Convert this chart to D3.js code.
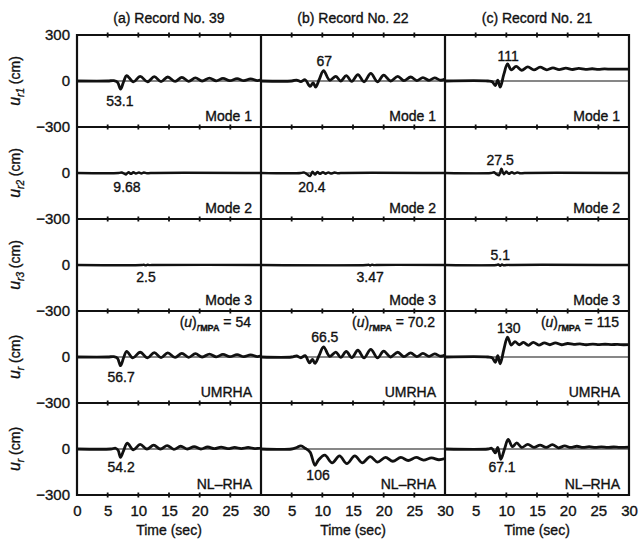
<!DOCTYPE html>
<html>
<head>
<meta charset="utf-8">
<script src="https://cdn.jsdelivr.net/npm/d3@7"></script>
<style>
    body { margin: 0; background: #fff; }
    text { font-family: "Liberation Sans", Arial, Helvetica, sans-serif; fill: #111; stroke: #111; stroke-width: 0.35px; }
</style>
</head>
<body>
<div id="chart"></div>
<script>
// ---- data: [time (s), displacement (cm)] ----
const recordTitles = ["(a) Record No. 39", "(b) Record No. 22", "(c) Record No. 21"];
const rowNames = ["Mode 1", "Mode 2", "Mode 3", "UMRHA", "NL\u2013RHA"];
const rowSubs = ["r1", "r2", "r3", "r", "r"];
const timeTicks = [0, 5, 10, 15, 20, 25, 30];
const dispTicks = [300, 0, -300];

const mode1Rec39 = [[0,0],[5,0],[6,2],[6.6,-8],[7.1,-53.1],[7.6,-5],[8.1,35],[9.2,-6],[10.3,30],[11.5,-5],[12.6,28],[13.7,-4],[14.8,26],[16,-3],[17.1,24],[18.2,-2],[19.3,21],[20.4,0],[21.6,19],[22.7,1],[23.8,17],[24.9,2],[26.1,15],[27.2,2],[28.3,14],[29.4,3],[30,8]];
const mode1Rec22 = [[0,0],[5,0],[5.8,6],[6.5,-4],[7.2,8],[8.0,-35],[8.5,-12],[8.9,-40],[9.5,10],[10.2,67],[11.2,5],[12.2,30],[13.0,0],[13.9,35],[14.8,-3],[15.8,42],[16.8,-5],[17.9,50],[19.0,-5],[20.0,38],[21.1,0],[22.3,30],[23.3,2],[24.4,26],[25.4,3],[26.4,22],[27.4,4],[28.3,20],[29.3,5],[30,12]];
const mode1Rec21 = [[0,0],[7,0],[7.7,-5],[8.2,-30],[8.6,5],[9.0,-40],[9.6,45],[10.2,111],[10.8,72],[11.6,95],[12.5,70],[13.5,92],[14.5,72],[15.5,90],[16.6,73],[17.6,86],[18.6,74],[19.7,84],[20.8,75],[21.8,82],[22.9,76],[24,80],[25,76],[26,79],[27.1,77],[28.2,78],[29.2,77],[30,78]];

const mode2Rec39 = [[0,0],[6.8,0],[7.3,3],[7.7,-5],[8.0,-9.7],[8.4,5],[8.8,-6],[9.2,5],[9.6,-4],[10.1,4],[10.5,-3],[10.9,3],[11.4,-2],[12,0],[30,0]];
const mode2Rec22 = [[0,0],[6.5,0],[7.0,4],[7.5,-8],[8.0,-20.4],[8.4,8],[8.8,-10],[9.2,7],[9.6,-6],[10.1,6],[10.5,-5],[11,4],[11.4,-4],[12,3],[12.5,-2],[13,0],[30,0]];
const mode2Rec21 = [[0,0],[7.5,0],[8.0,5],[8.4,-8],[8.8,-15],[9.2,27.5],[9.6,-8],[10,10],[10.4,-6],[10.9,6],[11.3,-4],[11.8,4],[12.3,-2],[13,0],[30,0]];

const mode3Rec39 = [[0,0],[10.6,0],[10.9,1.5],[11.2,-2.5],[11.5,1.5],[11.8,-1],[12.2,0],[30,0]];
const mode3Rec22 = [[0,0],[17.2,0],[17.5,2],[17.8,-3.47],[18.1,2],[18.4,-1],[18.8,0],[30,0]];
const mode3Rec21 = [[0,0],[8.4,0],[8.7,3],[9.0,-5.1],[9.3,3],[9.6,-2],[10,0],[30,0]];

const umrhaRec39 = [[0,0],[5,0],[6,2],[6.6,-8],[7.1,-56.7],[7.6,-5],[8.1,37],[9.1,-6],[10.3,31],[11.5,-6],[12.6,29],[13.7,-4],[14.8,27],[16,-3],[17.1,24],[18.2,-2],[19.3,22],[20.4,0],[21.6,19],[22.7,1],[23.8,17],[24.9,2],[26.1,15],[27.2,2],[28.3,14],[29.4,3],[30,8]];
const umrhaRec22 = [[0,0],[5,0],[5.8,7],[6.5,-5],[7.2,9],[7.9,-38],[8.4,-15],[8.8,-42],[9.5,12],[10.2,66.5],[11.2,4],[12.2,32],[13.0,-2],[13.9,36],[14.8,-4],[15.8,44],[16.8,-6],[17.9,50],[19.0,-6],[20.0,38],[21.1,0],[22.3,31],[23.3,2],[24.4,27],[25.4,3],[26.4,23],[27.4,4],[28.3,20],[29.3,5],[30,12]];
const umrhaRec21 = [[0,0],[7,0],[7.7,-6],[8.2,-35],[8.6,8],[9.0,-45],[9.6,50],[10.2,130],[10.8,78],[11.4,100],[12.1,80],[12.8,95],[13.6,76],[14.4,96],[15.3,78],[16.2,92],[17.1,80],[18.0,92],[19.0,80],[20.0,88],[21.0,82],[22.0,86],[23.0,80],[24.1,84],[25.1,81],[26.1,83],[27.1,81],[28.1,82],[29.1,80],[30,81]];

const nlRec39 = [[0,0],[5.5,0],[6.3,5],[6.7,-8],[7.1,-54.2],[7.6,-10],[8.2,38],[9.2,-5],[10.3,30],[11.4,0],[12.5,25],[13.6,0],[14.7,22],[15.8,-2],[16.9,18],[18.0,0],[19.1,15],[20.2,0],[21.3,13],[22.4,2],[23.5,12],[24.6,2],[25.7,10],[26.8,3],[27.9,10],[29,3],[30,7]];
const nlRec22 = [[0,0],[5,0],[5.8,10],[6.5,20],[7.2,5],[8.0,-20],[8.8,-106],[9.4,-70],[10.4,-40],[11.6,-90],[12.8,-45],[14.0,-95],[15.3,-45],[16.5,-90],[17.8,-50],[19.0,-85],[20.3,-55],[21.5,-80],[22.8,-55],[24.0,-75],[25.3,-55],[26.5,-72],[27.8,-58],[29.0,-70],[30,-62]];
const nlRec21 = [[0,0],[7,0],[7.6,5],[8.2,-25],[8.6,10],[9.1,-67.1],[9.7,0],[10.3,62],[11.0,15],[11.7,40],[12.5,10],[13.5,30],[14.5,10],[15.5,25],[16.5,10],[17.5,28],[18.5,8],[19.5,20],[20.5,10],[21.5,18],[22.5,10],[23.5,15],[24.5,10],[25.5,14],[26.5,10],[27.5,13],[28.5,10],[30,12]];

const peakLabels = [
    ["53.1", "67", "111"],
    ["9.68", "20.4", "27.5"],
    ["2.5", "3.47", "5.1"],
    ["56.7", "66.5", "130"],
    ["54.2", "106", "67.1"]
];
const mpaValues = ["54", "70.2", "115"];

// ---- layout ----
const width = 641, height = 541;
const plotLeft = 77, plotTop = 35;
const colW = 184, rowH = 92;

const series = [
    [mode1Rec39, mode1Rec22, mode1Rec21],
    [mode2Rec39, mode2Rec22, mode2Rec21],
    [mode3Rec39, mode3Rec22, mode3Rec21],
    [umrhaRec39, umrhaRec22, umrhaRec21],
    [nlRec39, nlRec22, nlRec21]
];

// where each peak label sits, in data coordinates [t, u] of its panel
const peakAnchor = [
    [[7.0, -163], [10.3, 98], [10.3, 130]],
    [[8.15, -124], [8.3, -124], [9.0, 52]],
    [[11.25, -111], [17.8, -111], [9.0, 33]],
    [[7.2, -163], [10.4, 98], [10.4, 156]],
    [[7.2, -150], [9.3, -202], [9.3, -150]]
];

const svg = d3.select("#chart").append("svg")
    .attr("width", width)
    .attr("height", height);

const xScales = d3.range(3).map(c => d3.scaleLinear()
    .domain([0, 30])
    .range([plotLeft + c * colW, plotLeft + (c + 1) * colW]));

const yScales = d3.range(5).map(r => d3.scaleLinear()
    .domain([-300, 300])
    .range([plotTop + (r + 1) * rowH, plotTop + r * rowH]));

const lineGen = (x, y) => d3.line()
    .x(d => x(d[0]))
    .y(d => y(d[1]))
    .curve(d3.curveCatmullRom.alpha(0.5));

// zero lines
for (let r = 0; r < 5; r++) {
    for (let c = 0; c < 3; c++) {
        svg.append("line")
            .attr("x1", xScales[c](0)).attr("x2", xScales[c](30))
            .attr("y1", yScales[r](0)).attr("y2", yScales[r](0))
            .attr("stroke", "#111").attr("stroke-width", 1.2);
    }
}

// traces
for (let r = 0; r < 5; r++) {
    for (let c = 0; c < 3; c++) {
        svg.append("path")
            .datum(series[r][c])
            .attr("d", lineGen(xScales[c], yScales[r]))
            .attr("fill", "none")
            .attr("stroke", "#111")
            .attr("stroke-width", r === 1 || r === 2 ? 2.4 : 2.8)
            .attr("stroke-linejoin", "round");
    }
}

// frame: row boundaries and column boundaries
for (let r = 0; r <= 5; r++) {
    const y = plotTop + r * rowH;
    svg.append("line")
        .attr("x1", plotLeft).attr("x2", plotLeft + 3 * colW)
        .attr("y1", y).attr("y2", y)
        .attr("stroke", "#111").attr("stroke-width", 2.2);
}
for (let c = 0; c <= 3; c++) {
    const x = plotLeft + c * colW;
    svg.append("line")
        .attr("x1", x).attr("x2", x)
        .attr("y1", plotTop - 1).attr("y2", plotTop + 5 * rowH + 1)
        .attr("stroke", "#111").attr("stroke-width", 2.2);
}

// small ticks on each row boundary
for (let c = 0; c < 3; c++) {
    for (let r = 0; r <= 5; r++) {
        const y = plotTop + r * rowH;
        svg.append("g")
            .selectAll("line")
            .data(timeTicks.slice(1, -1))
            .join("line")
            .attr("x1", d => xScales[c](d)).attr("x2", d => xScales[c](d))
            .attr("y1", y - 2.5).attr("y2", y + 2.5)
            .attr("stroke", "#111").attr("stroke-width", 1.8);
    }
}

// bottom time axes
for (let c = 0; c < 3; c++) {
    const ax = svg.append("g")
        .attr("transform", "translate(0," + (plotTop + 5 * rowH) + ")")
        .call(d3.axisBottom(xScales[c])
            .tickValues(c === 0 ? timeTicks : timeTicks.slice(1))
            .tickSize(0)
            .tickPadding(10));
    ax.select(".domain").remove();
    ax.selectAll("text")
        .attr("font-size", 15)
        .attr("fill", "#111")
        .style("font-family", "'Liberation Sans', Arial, sans-serif");

    svg.append("text")
        .attr("x", plotLeft + c * colW + colW / 2)
        .attr("y", 535)
        .attr("text-anchor", "middle")
        .attr("font-size", 14)
        .text("Time (sec)");

    svg.append("text")
        .attr("x", plotLeft + c * colW + colW / 2)
        .attr("y", 23)
        .attr("text-anchor", "middle")
        .attr("font-size", 14)
        .text(recordTitles[c]);
}

// left displacement axes
for (let r = 0; r < 5; r++) {
    const ay = svg.append("g")
        .attr("transform", "translate(" + plotLeft + ",0)")
        .call(d3.axisLeft(yScales[r])
            .tickValues(r === 0 ? dispTicks : dispTicks.slice(1))
            .tickSize(0)
            .tickPadding(7)
            .tickFormat(d => d < 0 ? "\u2212" + Math.abs(d) : d));
    ay.select(".domain").remove();
    ay.selectAll("text")
        .attr("font-size", 15)
        .attr("fill", "#111")
        .style("font-family", "'Liberation Sans', Arial, sans-serif");

    // axis title u_rn (cm)
    const cy = plotTop + r * rowH + rowH / 2;
    const ttl = svg.append("text")
        .attr("transform", "translate(20," + cy + ") rotate(-90)")
        .attr("text-anchor", "middle")
        .attr("font-size", 14);
    ttl.append("tspan").attr("font-style", "italic").attr("font-size", 16).text("u");
    ttl.append("tspan").attr("font-style", "italic").attr("font-size", 10).attr("dy", 4).text(rowSubs[r]);
    ttl.append("tspan").attr("dy", -4).text(" (cm)");
}

// row names and peak labels
for (let r = 0; r < 5; r++) {
    for (let c = 0; c < 3; c++) {
        svg.append("text")
            .attr("x", plotLeft + (c + 1) * colW - 9)
            .attr("y", plotTop + r * rowH + 86)
            .attr("text-anchor", "end")
            .attr("font-size", 14)
            .text(rowNames[r]);

        const a = peakAnchor[r][c];
        svg.append("text")
            .attr("x", xScales[c](a[0]))
            .attr("y", yScales[r](a[1]))
            .attr("text-anchor", "middle")
            .attr("font-size", 14)
            .text(peakLabels[r][c]);
    }
}

// (u)_rMPA labels in the UMRHA row
for (let c = 0; c < 3; c++) {
    const lbl = svg.append("text")
        .attr("x", plotLeft + (c + 1) * colW - 10)
        .attr("y", plotTop + 3 * rowH + 16)
        .attr("text-anchor", "end")
        .attr("font-size", 14);
    lbl.append("tspan").text("(");
    lbl.append("tspan").attr("font-style", "italic").text("u");
    lbl.append("tspan").text(")");
    lbl.append("tspan").attr("font-style", "italic").attr("font-size", 10).attr("dy", 4).text("r");
    lbl.append("tspan").attr("font-size", 9).attr("font-weight", "bold").text("MPA");
    lbl.append("tspan").attr("dy", -4).text(" = " + mpaValues[c]);
}
</script>
</body>
</html>
